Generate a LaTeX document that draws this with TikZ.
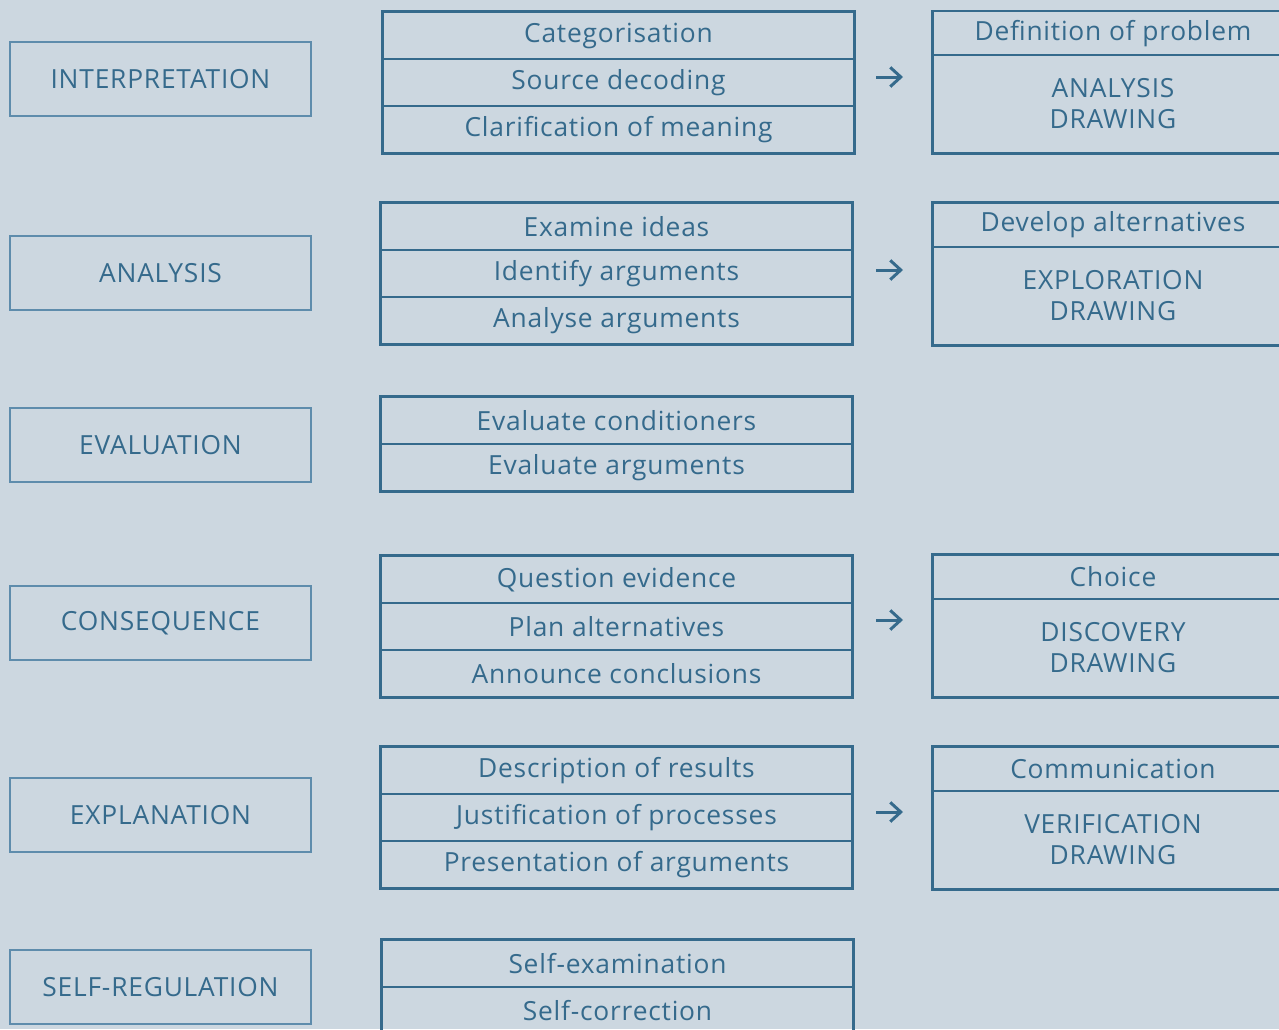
\documentclass[tikz,border=0pt]{standalone}
\usepackage{fontspec}
\setmainfont{Open Sans}[LetterSpace=3]
\usetikzlibrary{arrows.meta}
\definecolor{bgblue}{HTML}{CCD7E0}
\definecolor{inkblue}{HTML}{356A8C}
\definecolor{lineblue}{HTML}{5E8CAC}

\begin{document}
\begin{tikzpicture}[x=0.02cm, y=-0.02cm,
  stagebox/.style={draw=lineblue, line width=0.8pt, minimum width=6.02cm, minimum height=1.48cm, inner sep=0pt, text=inkblue, font=\fontsize{15}{18}\selectfont},
  cellbox/.style={draw=inkblue, line width=0.8pt, minimum width=9.42cm, minimum height=0.94cm, inner sep=0pt, text=inkblue, font=\fontsize{15}{18}\selectfont},
  headbox/.style={draw=inkblue, line width=0.8pt, minimum width=7.2cm, minimum height=0.88cm, inner sep=0pt, text=inkblue, font=\fontsize{15}{18}\selectfont},
  drawbox/.style={draw=inkblue, line width=0.8pt, minimum width=7.2cm, minimum height=1.96cm, inner sep=0pt, align=center, text=inkblue, font=\fontsize{15}{17.6}\selectfont},
  frame/.style={draw=inkblue, line width=1.4pt},
  arrow/.style={-{Straight Barb[length=6pt, width=11pt]}, line width=1.7pt, inkblue}
]
\clip (0,0) rectangle (1279,1029);
\fill[bgblue] (0,0) rectangle (1279,1029);

% stages
\node[stagebox] (interp) at (160.5,79) {INTERPRETATION};
\node[stagebox] (analys) at (160.5,273) {ANALYSIS};
\node[stagebox] (evalu) at (160.5,445) {EVALUATION};
\node[stagebox] (conseq) at (160.5,623) {CONSEQUENCE};
\node[stagebox] (explan) at (160.5,815) {EXPLANATION};
\node[stagebox] (selfreg) at (160.5,987) {SELF-REGULATION};

% skills
\node[cellbox] (interp-a) at (618.5,35.5) {Categorisation};
\node[cellbox] (interp-b) at (618.5,82.5) {Source decoding};
\node[cellbox] (interp-c) at (618.5,129.5) {Clarification of meaning};
\draw[frame] (interp-a.north west) rectangle (interp-c.south east);

\node[cellbox] (analys-a) at (616.5,226.5) {Examine ideas};
\node[cellbox] (analys-b) at (616.5,273.5) {Identify arguments};
\node[cellbox] (analys-c) at (616.5,320.5) {Analyse arguments};
\draw[frame] (analys-a.north west) rectangle (analys-c.south east);

\node[cellbox] (evalu-a) at (616.5,420.5) {Evaluate conditioners};
\node[cellbox] (evalu-b) at (616.5,467.5) {Evaluate arguments};
\draw[frame] (evalu-a.north west) rectangle (evalu-b.south east);

\node[cellbox] (conseq-a) at (616.5,579.5) {Question evidence};
\node[cellbox] (conseq-b) at (616.5,626.5) {Plan alternatives};
\node[cellbox] (conseq-c) at (616.5,673.5) {Announce conclusions};
\draw[frame] (conseq-a.north west) rectangle (conseq-c.south east);

\node[cellbox] (explan-a) at (616.5,770.5) {Description of results};
\node[cellbox] (explan-b) at (616.5,817.5) {Justification of processes};
\node[cellbox] (explan-c) at (616.5,864.5) {Presentation of arguments};
\draw[frame] (explan-a.north west) rectangle (explan-c.south east);

\node[cellbox] (selfreg-a) at (617.5,963.5) {Self-examination};
\node[cellbox] (selfreg-b) at (617.5,1010.5) {Self-correction};
\draw[frame] (selfreg-a.north west) rectangle (selfreg-b.south east);

% drawing phases
\node[headbox] (defprob) at (1113,33.5) {Definition of problem};
\node[drawbox] (anadraw) at (1113,104) {ANALYSIS\\DRAWING};
\draw[frame] (defprob.north west) rectangle (anadraw.south east);

\node[headbox] (devalt) at (1113,225) {Develop alternatives};
\node[drawbox] (expdraw) at (1113,296) {EXPLORATION\\DRAWING};
\draw[frame] (devalt.north west) rectangle (expdraw.south east);

\node[headbox] (choice) at (1113,577) {Choice};
\node[drawbox] (disdraw) at (1113,648) {DISCOVERY\\DRAWING};
\draw[frame] (choice.north west) rectangle (disdraw.south east);

\node[headbox] (commun) at (1113,769) {Communication};
\node[drawbox] (verdraw) at (1113,840) {VERIFICATION\\DRAWING};
\draw[frame] (commun.north west) rectangle (verdraw.south east);

% arrows
\coordinate (t1) at (876,77);  \coordinate (h1) at (903,77);
\coordinate (t2) at (876,270); \coordinate (h2) at (903,270);
\coordinate (t4) at (876,620); \coordinate (h4) at (903,620);
\coordinate (t5) at (876,812); \coordinate (h5) at (903,812);
\draw[arrow] (t1) -- (h1);
\draw[arrow] (t2) -- (h2);
\draw[arrow] (t4) -- (h4);
\draw[arrow] (t5) -- (h5);
\end{tikzpicture}
\end{document}
